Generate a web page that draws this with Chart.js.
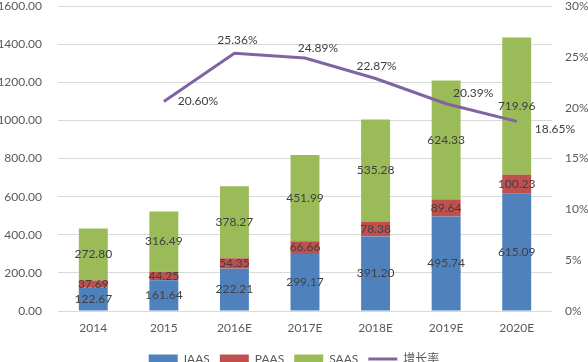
<!DOCTYPE html>
<html>
<head>
<meta charset="utf-8">
<script src="https://cdn.jsdelivr.net/npm/chart.js@4/dist/chart.umd.min.js"></script>
<style>
  html, body { margin: 0; padding: 0; background: #fff; overflow: hidden; width: 588px; height: 362px; }
  #wrap { width: 588px; height: 375px; }
</style>
</head>
<body>
<div id="wrap"><canvas id="c" width="588" height="375"></canvas></div>
<script>
const categories = ['2014', '2015', '2016E', '2017E', '2018E', '2019E', '2020E'];
const iaas = [122.67, 161.64, 222.21, 299.17, 391.20, 495.74, 615.09];
const paas = [37.69, 44.25, 54.35, 66.66, 78.38, 89.64, 100.23];
const saas = [272.80, 316.49, 378.27, 451.99, 535.28, 624.33, 719.96];
const growth = [null, 20.60, 25.36, 24.89, 22.87, 20.39, 18.65];
const seriesNames = ['IAAS', 'PAAS', 'SAAS', '增长率'];
const leftTicks = [0, 200, 400, 600, 800, 1000, 1200, 1400, 1600];
const rightTicks = [0, 5, 10, 15, 20, 25, 30];

const FONT = "Lato, 'Noto Sans CJK SC', sans-serif";
const TXT = '#595959';
const LBL = '#404040';
const COLORS = ['#4F81BD', '#C0504D', '#9BBB59', '#8064A2'];

// label placement for growth-rate labels: [align, dx, dy]
const growthLabelPlacement = [
  null,
  ['left', 14, 0],
  ['center', 3, -13],
  ['center', 13, -10],
  ['center', 1, -12],
  ['center', 27, -11],
  ['left', 18, 8]
];

const labelPlugin = {
  id: 'labels',
  afterDatasetsDraw(chart) {
    const ctx = chart.ctx;
    ctx.save();
    ctx.font = '12px ' + FONT;
    ctx.fillStyle = LBL;
    ctx.textBaseline = 'middle';
    for (let d = 0; d < 3; d++) {
      const meta = chart.getDatasetMeta(d);
      const data = chart.data.datasets[d].data;
      meta.data.forEach((el, i) => {
        const y = (el.y + el.base) / 2;
        ctx.textAlign = 'center';
        ctx.fillText(data[i].toFixed(2), el.x, y);
      });
    }
    const lm = chart.getDatasetMeta(3);
    lm.data.forEach((pt, i) => {
      const v = growth[i];
      const p = growthLabelPlacement[i];
      if (v === null || !p) return;
      ctx.textAlign = p[0];
      ctx.fillText(v.toFixed(2) + '%', pt.x + p[1], pt.y + p[2]);
    });
    ctx.restore();
  }
};

new Chart(document.getElementById('c'), {
  data: {
    labels: categories,
    datasets: [
      { type: 'bar', label: seriesNames[0], data: iaas, backgroundColor: COLORS[0], stack: 's', yAxisID: 'y', order: 2 },
      { type: 'bar', label: seriesNames[1], data: paas, backgroundColor: COLORS[1], stack: 's', yAxisID: 'y', order: 2 },
      { type: 'bar', label: seriesNames[2], data: saas, backgroundColor: COLORS[2], stack: 's', yAxisID: 'y', order: 2 },
      { type: 'line', label: seriesNames[3], data: growth, borderColor: COLORS[3], backgroundColor: COLORS[3],
        borderWidth: 3, pointRadius: 0, tension: 0, yAxisID: 'y1', order: 0, spanGaps: false }
    ]
  },
  options: {
    responsive: false,
    animation: false,
    devicePixelRatio: 1,
    datasets: { bar: { categoryPercentage: 1, barPercentage: 0.41 } },
    layout: { padding: 0 },
    plugins: {
      tooltip: { enabled: false },
      legend: {
        position: 'bottom',
        labels: {
          font: { size: 12, family: FONT },
          color: TXT,
          usePointStyle: true,
          pointStyleWidth: 29,
          boxHeight: 9,
          padding: 10,
          generateLabels(chart) {
            return chart.data.datasets.map((ds, i) => ({
              text: ds.label,
              fillStyle: COLORS[i],
              strokeStyle: COLORS[i],
              lineWidth: i === 3 ? 3 : 0,
              pointStyle: i === 3 ? 'line' : 'rect',
              hidden: false,
              datasetIndex: i,
              fontColor: TXT
            }));
          }
        }
      }
    },
    scales: {
      x: {
        stacked: true,
        grid: { display: false, drawTicks: false },
        border: { display: false },
        ticks: { color: TXT, font: { size: 12, family: FONT }, padding: 10 },
        afterFit(s) { s.height = 32; }
      },
      y: {
        stacked: true,
        position: 'left',
        min: 0, max: 1600,
        afterBuildTicks(s) { s.ticks = leftTicks.map(v => ({ value: v })); },
        grid: { color: '#D9D9D9', lineWidth: 1, drawTicks: true, tickLength: 16, tickColor: 'rgba(0,0,0,0)' },
        border: { display: false },
        ticks: { color: TXT, font: { size: 12, family: FONT, lineHeight: 1 }, padding: 0,
          callback: v => Number(v).toFixed(2) },
        afterFit(s) { s.width = 58; }
      },
      y1: {
        position: 'right',
        min: 0, max: 30,
        afterBuildTicks(s) { s.ticks = rightTicks.map(v => ({ value: v })); },
        grid: { display: false, drawOnChartArea: false, drawTicks: true, tickLength: 13, tickColor: 'rgba(0,0,0,0)' },
        border: { display: false },
        ticks: { color: TXT, font: { size: 12, family: FONT, lineHeight: 1 }, padding: 0,
          callback: v => v + '%' },
        afterFit(s) { s.width = 36; }
      }
    }
  },
  plugins: [labelPlugin]
});
</script>
</body>
</html>
